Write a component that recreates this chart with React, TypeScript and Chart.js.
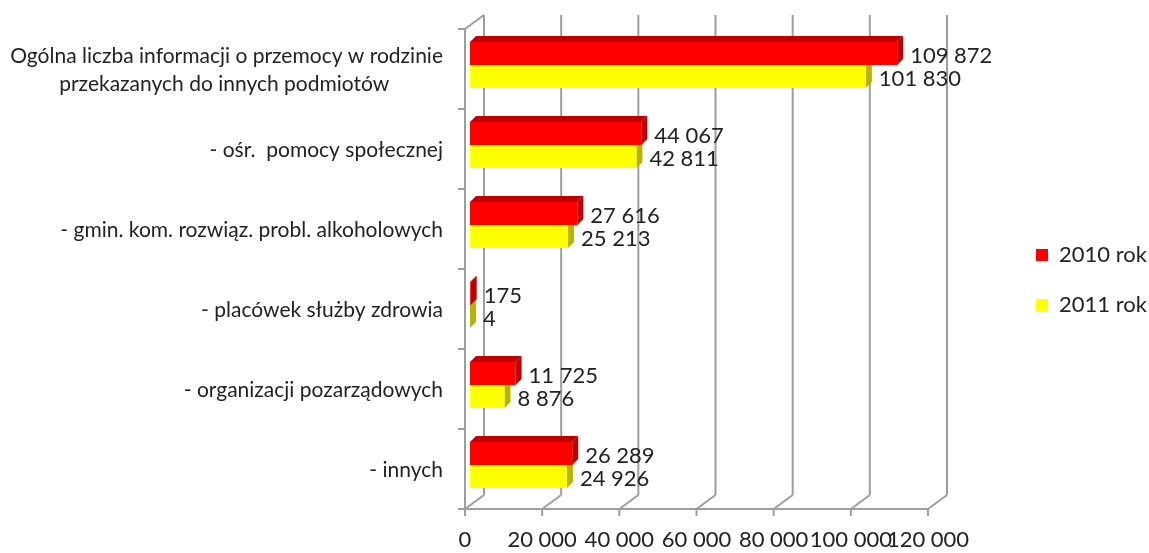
import React, { useEffect, useRef } from "react";
import { Chart, registerables } from "chart.js";

Chart.register(...registerables);

const categories: (string | string[])[] = [
  ["Ogólna liczba informacji o przemocy w rodzinie", "przekazanych do innych podmiotów          "],
  "- ośr.  pomocy społecznej",
  "- gmin. kom. rozwiąz. probl. alkoholowych",
  "- placówek służby zdrowia",
  "- organizacji pozarządowych",
  "- innych",
];
const values2010 = [109872, 44067, 27616, 175, 11725, 26289];
const values2011 = [101830, 42811, 25213, 4, 8876, 24926];
const seriesNames = ["2010 rok", "2011 rok"];
const seriesColors = ["#ff0000", "#ffff00"];
const sideColors = ["#bd0000", "#b5b500"];
const FONT = "Lato";
const GRID = "#9e9e9e";
const TEXT = "#222222";

const fmt = (v: number) => String(v).replace(/\B(?=(\d{3})+(?!\d))/g, " ");

const frame3d = {
  id: "frame3d",
  afterLayout(chart: any) {
    if (chart.legend) {
      chart.legend.left = 1036 - chart.legend.options.labels.padding;
      chart.legend.top -= 9;
      chart.legend.bottom -= 9;
    }
  },
  beforeDatasetsDraw(chart: any) {
    const { ctx } = chart;
    const xs = chart.scales.x;
    const ys = chart.scales.y;
    const bottom = ys.bottom + 4;
    const top = ys.top + 4;
    const dx = 19;
    const dy = 14;
    ctx.save();
    ctx.strokeStyle = GRID;
    ctx.lineWidth = 2;
    const line = (a: number, b: number, c: number, d: number) => {
      ctx.beginPath();
      ctx.moveTo(a, b);
      ctx.lineTo(c, d);
      ctx.stroke();
    };
    line(xs.left, top, xs.left, bottom);
    line(xs.left, top, xs.left + dx, top - dy);
    line(xs.left, bottom, xs.right, bottom);
    xs.ticks.forEach((t: any) => {
      const px = xs.getPixelForValue(t.value);
      line(px, bottom, px, bottom + 7);
      line(px, bottom, px + dx, bottom - dy);
      line(px + dx, bottom - dy, px + dx, top - dy);
    });
    const step = (bottom - top) / categories.length;
    for (let i = 0; i <= categories.length; i++) {
      line(xs.left - 7, top + i * step, xs.left, top + i * step);
    }
    const d = 6;
    [1, 0].forEach((di) => {
      chart.getDatasetMeta(di).data.forEach((b: any) => {
        const yT = b.y - b.height / 2;
        const yB = b.y + b.height / 2;
        ctx.fillStyle = sideColors[di];
        ctx.beginPath();
        ctx.moveTo(b.x, yT);
        ctx.lineTo(b.x + d, yT - d);
        ctx.lineTo(b.x + d, yB - d);
        ctx.lineTo(b.x, yB);
        ctx.closePath();
        ctx.fill();
        if (di === 0) {
          ctx.beginPath();
          ctx.moveTo(b.base, yT);
          ctx.lineTo(b.base + d, yT - d);
          ctx.lineTo(b.x + d, yT - d);
          ctx.lineTo(b.x, yT);
          ctx.closePath();
          ctx.fill();
        }
      });
    });
    ctx.restore();
  },
  afterDatasetsDraw(chart: any) {
    const { ctx } = chart;
    ctx.save();
    ctx.fillStyle = TEXT;
    ctx.font = `22px ${FONT}`;
    ctx.textAlign = "left";
    ctx.textBaseline = "middle";
    chart.data.datasets.forEach((ds: any, di: number) => {
      chart.getDatasetMeta(di).data.forEach((b: any, i: number) => {
        ctx.fillText(fmt(ds.data[i]), b.x + 13, b.y + 2);
      });
    });
    ctx.restore();
  },
};

export default function App() {
  const ref = useRef<HTMLCanvasElement>(null);
  useEffect(() => {
    const chart = new Chart(ref.current as HTMLCanvasElement, {
      type: "bar",
      data: {
        labels: categories as any,
        datasets: [
          { label: seriesNames[0], data: values2010, backgroundColor: seriesColors[0], xAxisID: "xb", yAxisID: "y" },
          { label: seriesNames[1], data: values2011, backgroundColor: seriesColors[1], xAxisID: "xb", yAxisID: "y" },
        ],
      },
      options: {
        indexAxis: "y",
        responsive: false,
        animation: false,
        layout: { padding: { top: 25, left: 0, right: 0, bottom: 0 } },
        datasets: { bar: { categoryPercentage: 0.575, barPercentage: 1 } },
        plugins: {
          tooltip: { enabled: false },
          legend: {
            position: "right",
            maxWidth: 120,
            labels: {
              boxWidth: 12,
              boxHeight: 12,
              padding: 28,
              color: TEXT,
              font: { family: FONT, size: 22 },
            },
          },
        },
        scales: {
          x: {
            type: "linear",
            position: "bottom",
            min: 0,
            max: 120000,
            grid: { display: false },
            border: { display: false },
            afterFit: (s: any) => { s.height = 48; },
            ticks: {
              stepSize: 20000,
              padding: 14,
              maxRotation: 0,
              autoSkip: false,
              color: TEXT,
              font: { family: FONT, size: 22 },
              callback: (v: any) => fmt(Number(v)),
            },
          },
          xb: {
            type: "linear",
            display: false,
            min: -1286,
            max: 117814,
          },
          y: {
            type: "category",
            position: "left",
            afterFit: (s: any) => { s.width = 465; s.paddingTop = 0; s.paddingBottom = 0; },
            grid: { display: false, drawTicks: false },
            border: { display: false },
            ticks: {
              padding: 22,
              labelOffset: 5,
              autoSkip: false,
              color: TEXT,
              font: { family: FONT, size: 21, lineHeight: 1.33 },
            },
          },
          yg: {
            type: "linear",
            position: "right",
            grid: { display: false },
            border: { display: false },
            ticks: { display: false },
            afterFit: (s: any) => { s.width = 101; },
          },
        },
      },
      plugins: [frame3d],
    } as any);
    return () => chart.destroy();
  }, []);
  return (
    <div style={{ position: "absolute", left: 0, top: 0, width: 1149, height: 553 }}>
      <canvas ref={ref} width={1149} height={553} style={{ display: "block" }} />
    </div>
  );
}
